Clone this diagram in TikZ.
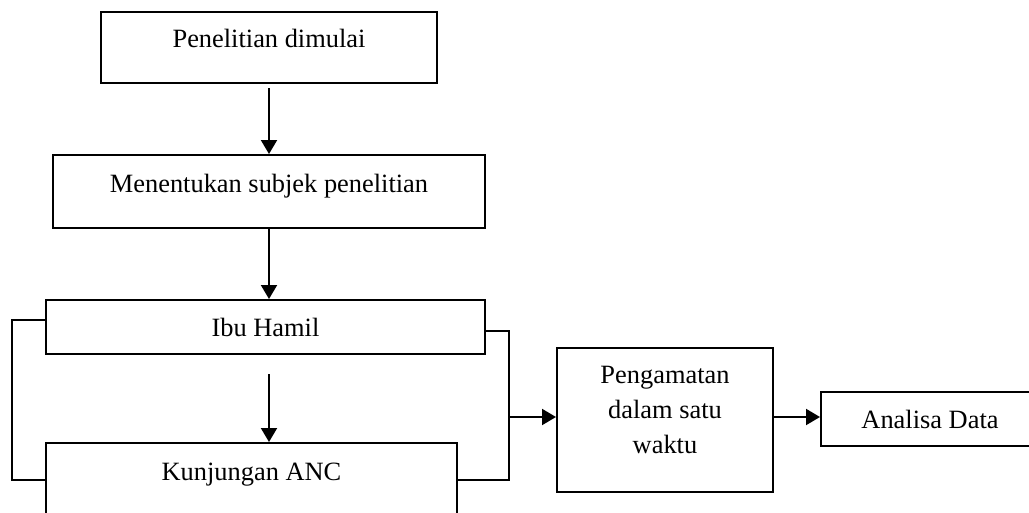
\documentclass[tikz,border=0pt]{standalone}
\usepackage{fontspec}
\setmainfont{Liberation Serif}
\usetikzlibrary{arrows.meta}
\begin{document}
\begin{tikzpicture}[x=1pt,y=-1pt,
  lw/.style={line width=2pt},
  txt/.style={font=\fontsize{26.4}{35}\selectfont},
  box/.style={draw, lw, txt, inner xsep=0pt, inner ysep=0pt, anchor=base},
  arr/.style={lw, -{Triangle[length=14pt,width=16pt]}},
  link/.style={lw}]
\fill[white] (0,0) rectangle (1029,512);
\useasboundingbox (0,0) rectangle (1029,512);
\node[box, minimum width=336pt, text height=35pt, text depth=36pt] (b1) at (269,47) {Penelitian dimulai};
\node[box, minimum width=432pt, text height=37pt, text depth=36pt] (b2) at (269,192) {Menentukan subjek penelitian};
\node[box, minimum width=439pt, text height=36pt, text depth=18pt] (b3) at (265.5,336) {Ibu Hamil};
\node[box, minimum width=411pt, text height=37pt, text depth=37pt] (b4) at (251.5,480) {Kunjungan ANC};
\node[draw, lw, minimum width=216pt, minimum height=144pt, inner sep=0pt] (pg) at (665,420) {};
\node[txt, align=center, inner sep=0pt] (pgt) at (665,410) {Pengamatan\\dalam satu\\waktu};
\node[box, minimum width=218pt, text height=36pt, text depth=18pt] (ad) at (930,428) {Analisa Data};
\coordinate (lj) at (12,400);
\coordinate (rj) at (509,417);
% vertical flow
\draw[arr, shorten <=4pt] (b1.south) -- (b2.north);
\draw[arr] (b2.south) -- (b2.south |- b3.north);
\draw[arr, shorten <=19pt] (b2.south |- b3.south) -- (b2.south |- b4.north);
% left bracket
\draw[link] ([yshift=7pt]b3.west) -| (lj) |- (b4.west);
% right bracket
\draw[link] ([yshift=-4pt]b3.east) -| (rj) |- (b4.east);
% to the right
\draw[arr] (rj) -- (rj -| pg.west);
\draw[arr] (rj -| pg.east) -- (rj -| ad.west);
\end{tikzpicture}
\end{document}
